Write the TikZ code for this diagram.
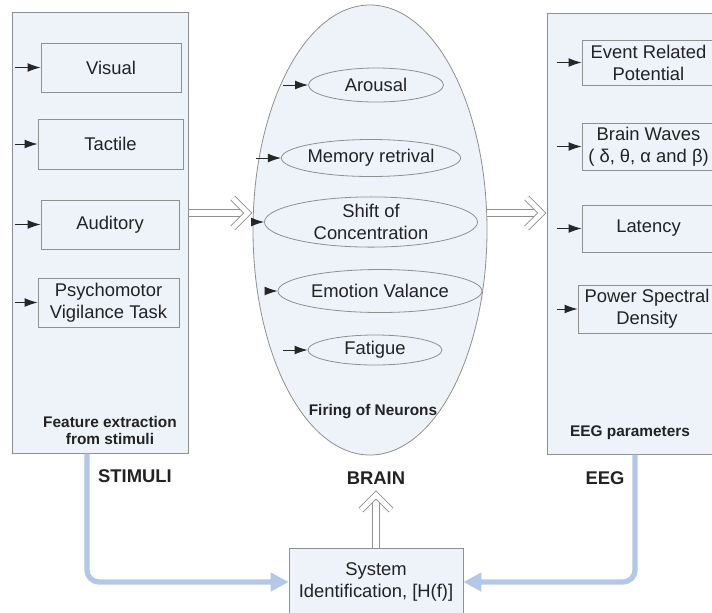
\documentclass[tikz,border=0pt]{standalone}
\usepackage{fontspec}
\setmainfont{Liberation Sans}
\usepackage{xcolor}
\usetikzlibrary{arrows.meta,positioning,calc,shapes.geometric}
\definecolor{panelfill}{HTML}{EEF3FA}
\definecolor{edgegray}{HTML}{8F8F8F}
\definecolor{loopblue}{HTML}{B3C7E8}
\definecolor{inkgray}{HTML}{222222}
\tikzset{
  panel/.style={draw=edgegray, fill=panelfill, inner sep=0pt, line width=0.5pt},
  subbox/.style={draw=edgegray, fill=panelfill, inner sep=0pt, align=center, text=inkgray, font=\fontsize{9.2}{11}\selectfont},
  subellipse/.style={ellipse, draw=edgegray, fill=panelfill, inner sep=0pt, align=center, text=inkgray, font=\fontsize{9.2}{11}\selectfont},
  feed/.style={-{Latex[length=6.5pt,width=4.4pt]}, draw=black!85, line width=0.45pt},
  hollowshaft/.style={draw=edgegray, double=white, double distance=3.1pt, line width=0.45pt},
  headline/.style={draw=edgegray, double=white, double distance=2.4pt, line width=0.45pt, line join=miter},
  pics/hollowhead/.style={code={\draw[headline] (-7.5pt,7.5pt) -- (0pt,0pt) -- (-7.5pt,-7.5pt);}},
  loopline/.style={draw=loopblue, line width=2.6pt, rounded corners=6pt, -{Triangle[length=9pt,width=9pt]}},
  tag/.style={text=inkgray, font=\bfseries\fontsize{9.2}{11}\selectfont},
  note/.style={text=inkgray, align=center, font=\bfseries\fontsize{7.7}{8.5}\selectfont}
}

\begin{document}
\begin{tikzpicture}[x=0.5pt,y=-0.5pt]
  \useasboundingbox (0,0) rectangle (712,612);
  \clip (0,0) rectangle (712,612);

  % Stimuli panel
  \node[panel, minimum width=88pt, minimum height=220.5pt] (stim) at (100,232.5) {};
  \node[subbox, minimum width=70pt, minimum height=24.5pt] (visual) at (111,67.5) {Visual};
  \node[subbox, minimum width=72.5pt, minimum height=25pt] (tactile) at (110.5,144) {Tactile};
  \node[subbox, minimum width=69pt, minimum height=24.5pt] (auditory) at (110,224.5) {Auditory};
  \node[subbox, minimum width=70.5pt, minimum height=24.5pt] (psycho) at (108.5,302.5) {Psychomotor\\Vigilance Task};
  \node[note] (stimnote) at (110,430) {Feature extraction\\from stimuli};

  % Brain ellipse
  \node[subellipse, minimum width=117pt, minimum height=225pt] (brain) at (370,230) {};
  \node[subellipse, minimum width=67.5pt, minimum height=17pt] (arousal) at (376,85) {Arousal};
  \node[subellipse, minimum width=81.5pt, minimum height=18.5pt] (memory) at (371,158) {Memory retrival};
  \node[subellipse, minimum width=106.5pt, minimum height=25pt] (shift) at (371,222) {Shift of\\Concentration};
  \node[subellipse, minimum width=102pt, minimum height=21.5pt] (emotion) at (380,291) {Emotion Valance};
  \node[subellipse, minimum width=67pt, minimum height=15pt] (fatigue) at (375,350) {Fatigue};
  \node[note] (brainnote) at (373,412) {Firing of Neurons};

  % EEG panel
  \node[panel, minimum width=88pt, minimum height=220.5pt] (eeg) at (635,233.5) {};
  \node[subbox, minimum width=66.5pt, minimum height=22.5pt] (erp) at (648.5,62.5) {Event Related\\Potential};
  \node[subbox, minimum width=66.5pt, minimum height=23.5pt] (waves) at (648.5,146.5) {Brain Waves\\( δ, θ, α and β)};
  \node[subbox, minimum width=66.5pt, minimum height=23.5pt] (latency) at (648.5,228.5) {Latency};
  \node[subbox, minimum width=69pt, minimum height=24pt] (psd) at (647,309) {Power Spectral\\Density};
  \node[note] (eegnote) at (630,433) {EEG parameters};

  % System identification
  \node[subbox, minimum width=87pt, minimum height=34pt] (sysid) at (376,582) {System\\Identification, [H(f)]};

  % Labels
  \node[tag] (stimlbl) at (135,476) {STIMULI};
  \node[tag] (brainlbl) at (376,478) {BRAIN};
  \node[tag] (eeglbl) at (605,478) {EEG};

  % Small input arrows
  \foreach \n/\d in {visual/13pt, tactile/11.5pt, auditory/13pt, psycho/11.5pt,
                     arousal/12.5pt, memory/12.5pt, shift/6pt, emotion/6.5pt, fatigue/12.5pt,
                     erp/12.5pt, waves/12.5pt, latency/12.5pt, psd/10.5pt}
    \draw[feed] ([xshift=-\d]\n.west) -- (\n.west);

  % Hollow arrows
  \draw[hollowshaft] (stim.east |- 0,213) -- ([xshift=-4pt]brain.west |- 0,213);
  \pic at ([xshift=-2.4pt]brain.west |- 0,213) {hollowhead};
  \draw[hollowshaft] (brain.east |- 0,213) -- ([xshift=-4pt]eeg.west |- 0,213);
  \pic at ([xshift=-2.4pt]eeg.west |- 0,213) {hollowhead};
  \draw[hollowshaft] (sysid.north) -- ([yshift=-3pt]brainlbl.south);
  \pic[rotate=90] at ([yshift=-1.8pt]brainlbl.south) {hollowhead};

  % Feedback loop
  \draw[loopline] ([xshift=-6.5pt]stim.south) |- (sysid.west);
  \draw[loopline] (eeg.south) |- (sysid.east);
\end{tikzpicture}
\end{document}
